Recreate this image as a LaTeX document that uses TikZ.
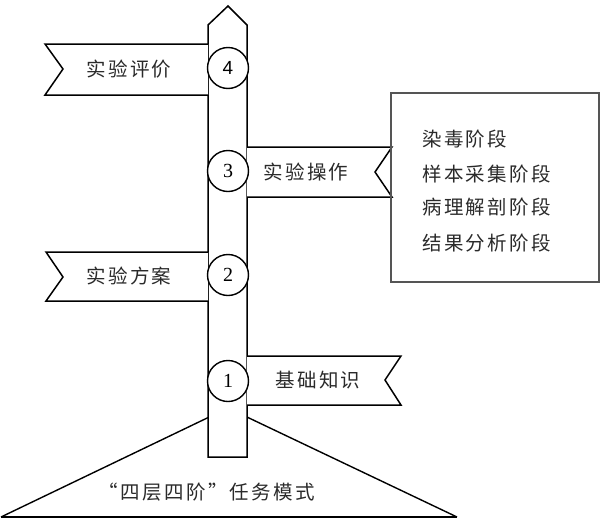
\documentclass[tikz,border=0pt]{standalone}
\usepackage{fontspec}
\newfontfamily\cjk[LetterSpace=12]{Noto Sans CJK SC}
\newfontfamily\digserif{Liberation Serif}
\newfontfamily\digsans{Liberation Sans}
\definecolor{txt}{HTML}{2A2A2A}
\definecolor{boxc}{HTML}{555555}
\begin{document}
\begin{tikzpicture}[x=1pt,y=-1pt,
  outl/.style={draw=black,line width=1.5pt,fill=white,line join=miter},
  numc/.style={circle,draw=black,line width=1.4pt,fill=white,minimum size=41pt,inner sep=0pt,font=\digserif\fontsize{20}{20}\selectfont},
  flagtxt/.style={font=\cjk\fontsize{19.5}{20}\selectfont,text=txt,inner sep=0pt},
  boxtxt/.style={font=\cjk\fontsize{19.5}{20}\selectfont,text=txt,inner sep=0pt,anchor=west}]
\useasboundingbox (0,0) rectangle (603,528);
% base triangle
\coordinate (tl) at (1,517);
\coordinate (tr) at (457,517);
\coordinate (ta) at (228,408);
\draw[line width=1.4pt] (tl) -- (ta) -- (tr);
\draw[line width=2.4pt] (tl) -- (tr);
% pole
\draw[outl] (208,457) -- (208,25) -- (228,6) -- (247,25) -- (247,457) -- cycle;
% flags
\draw[outl] (208,44) -- (45,44) -- (63,69) -- (45,95) -- (208,95);
\draw[outl] (247,147) -- (392,147) -- (375,172) -- (392,197) -- (247,197);
\draw[outl] (208,252) -- (46,252) -- (63,277) -- (46,301) -- (208,301);
\draw[outl] (247,356) -- (401,356) -- (385,380) -- (401,405) -- (247,405);
\node[flagtxt] (f4) at (129,69) {实验评价};
\node[flagtxt] (f3) at (306,172) {实验操作};
\node[flagtxt] (f2) at (129,276) {实验方案};
\node[flagtxt] (f1) at (318,380) {基础知识};
% circles
\node[numc,font=\digsans\fontsize{19}{19}\selectfont] (c4) at (228,68) {4};
\node[numc] (c3) at (228,171) {3};
\node[numc] (c2) at (228,275) {2};
\node[numc] (c1) at (228,381) {1};
% stage box
\node[draw=boxc,line width=1.2pt,minimum width=208pt,minimum height=189pt,inner sep=0pt] (box) at (495,187.5) {};
\node[boxtxt] (s1) at (422,139) {染毒阶段};
\node[boxtxt] (s2) at (422,174) {样本采集阶段};
\node[boxtxt] (s3) at (422,207) {病理解剖阶段};
\node[boxtxt] (s4) at (422,243) {结果分析阶段};
% bottom label
\node[flagtxt] (lab) at (207,492) {“四层四阶”任务模式};
\end{tikzpicture}
\end{document}
